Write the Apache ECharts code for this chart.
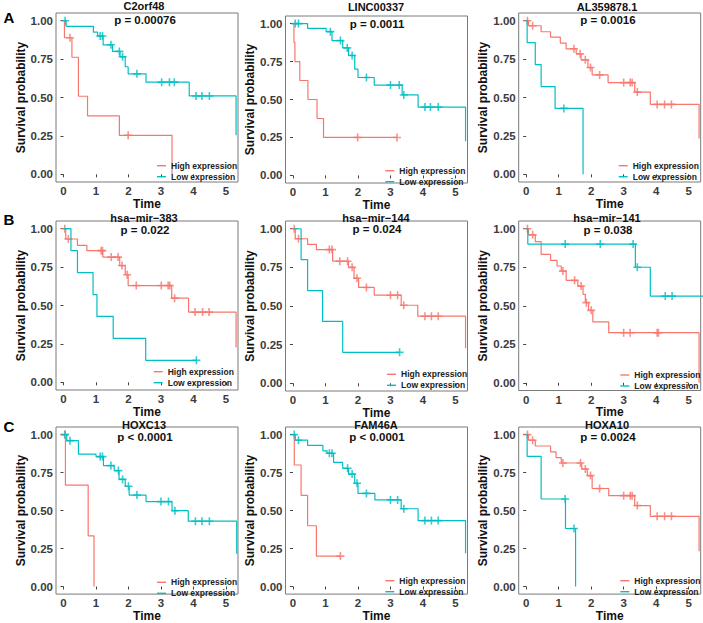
<!DOCTYPE html>
<html>
<head>
<meta charset="utf-8">
<script src="https://cdn.jsdelivr.net/npm/echarts@6/dist/echarts.min.js"></script>
<style>
html, body { margin: 0; padding: 0; background: #fff; }
#chart { width: 703px; height: 623px; }
</style>
</head>
<body>
<div id="chart"></div>
<script>
'use strict';

var xTicks = [0, 1, 2, 3, 4, 5];
var yTicks = [0, 0.25, 0.5, 0.75, 1];
var groups = ['High expression', 'Low expression'];
var genes = ['C2orf48', 'LINC00337', 'AL359878.1', 'hsa\u2212mir\u2212383', 'hsa\u2212mir\u2212144', 'hsa\u2212mir\u2212141', 'HOXC13', 'FAM46A', 'HOXA10'];
var pValues = ['p = 0.00076', 'p = 0.0011', 'p = 0.0016', 'p = 0.022', 'p = 0.024', 'p = 0.038', 'p < 0.0001', 'p < 0.0001', 'p = 0.0024'];
var panelLetters = ['A', 'B', 'C'];

// KM curves, one list per panel: event times, survival after each event, censored times
var highTimes = [
	[0.03, 0.26, 0.46, 0.74, 1.72, 3.34],
	[0.03, 0.06, 0.21, 0.46, 0.74, 0.94],
	[0.07, 0.46, 0.75, 1.05, 1.23, 1.54, 1.69, 1.9, 2.03, 2.52, 3.34, 3.82, 5.32],
	[0.07, 0.43, 0.72, 1.21, 1.73, 1.9, 1.99, 3.33, 3.85, 5.31],
	[0.07, 0.45, 0.72, 1.22, 1.71, 1.88, 2.02, 2.5, 3.33, 3.84, 5.31],
	[0.07, 0.28, 0.46, 0.75, 0.95, 1.08, 1.23, 1.59, 1.75, 1.82, 1.92, 2.05, 2.54, 5.32],
	[0.06, 0.76, 0.94],
	[0.04, 0.25, 0.45, 0.72],
	[0.07, 0.28, 0.75, 0.92, 1.08, 1.71, 1.88, 2.03, 2.54, 3.34, 3.82, 5.32]
];
var highSurv = [
	[0.889, 0.762, 0.508, 0.381, 0.254, 0],
	[0.875, 0.75, 0.625, 0.5, 0.375, 0.25],
	[0.967, 0.928, 0.893, 0.854, 0.817, 0.784, 0.745, 0.695, 0.647, 0.597, 0.535, 0.455, 0.233],
	[0.933, 0.891, 0.857, 0.815, 0.76, 0.70, 0.63, 0.548, 0.457, 0.226],
	[0.935, 0.899, 0.865, 0.79, 0.75, 0.68, 0.62, 0.57, 0.505, 0.434, 0.226],
	[0.96, 0.916, 0.833, 0.794, 0.758, 0.725, 0.665, 0.628, 0.574, 0.52, 0.47, 0.396, 0.325, 0],
	[0.667, 0.333, 0],
	[0.8, 0.6, 0.4, 0.2],
	[0.963, 0.925, 0.886, 0.849, 0.813, 0.774, 0.73, 0.645, 0.598, 0.533, 0.462, 0.232]
];
var highCens = [
	[0.2, 1.99],
	[1.99, 3.2],
	[0.04, 0.2, 1.47, 1.66, 1.82, 1.98, 2.26, 3.0, 3.2, 3.26, 3.42, 4.03, 4.26, 4.47],
	[0.04, 0.15, 1.16, 1.2, 1.47, 1.68, 1.8, 1.96, 2.24, 3.01, 3.22, 3.27, 3.42, 4.05, 4.28, 4.48],
	[0.04, 0.17, 1.12, 1.2, 1.44, 1.68, 1.82, 1.97, 2.26, 3.0, 3.22, 3.41, 4.06, 4.26, 4.47],
	[0.04, 0.2, 1.13, 1.49, 1.69, 1.85, 2.0, 3.0, 3.2, 4.03, 4.07],
	[0.04],
	[1.46],
	[0.04, 0.2, 1.13, 1.67, 1.82, 1.98, 2.26, 3.0, 3.2, 3.26, 3.42, 4.03, 4.26, 4.47]
];
var lowTimes = [
	[0.08, 0.92, 1.05, 1.22, 1.51, 1.74, 1.9, 1.99, 2.54, 3.87, 5.31],
	[0.45, 1.02, 1.2, 1.53, 1.71, 1.9, 2.0, 2.5, 3.36, 3.85, 5.31],
	[0.03, 0.28, 0.46, 0.89, 1.75],
	[0.23, 0.43, 0.91, 1.03, 1.53, 2.53],
	[0.25, 0.45, 0.91, 1.53],
	[0.05, 3.36, 3.82],
	[0.1, 0.46, 1.0, 1.23, 1.56, 1.71, 1.9, 2.02, 2.54, 3.34, 3.84, 5.33],
	[0.07, 0.45, 0.92, 1.05, 1.25, 1.53, 1.71, 1.9, 2.0, 2.52, 3.33, 3.85, 5.31],
	[0.03, 0.46, 1.21, 1.52]
];
var lowSurv = [
	[0.963, 0.925, 0.90, 0.843, 0.80, 0.765, 0.70, 0.654, 0.60, 0.51, 0.255],
	[0.969, 0.947, 0.888, 0.84, 0.79, 0.70, 0.645, 0.595, 0.53, 0.45, 0.225],
	[0.857, 0.714, 0.571, 0.429, 0],
	[0.857, 0.714, 0.571, 0.429, 0.286, 0.143],
	[0.8, 0.6, 0.4, 0.2],
	[0.9, 0.75, 0.5625],
	[0.96, 0.871, 0.855, 0.796, 0.763, 0.705, 0.66, 0.602, 0.559, 0.499, 0.43, 0.215],
	[0.963, 0.929, 0.893, 0.877, 0.817, 0.778, 0.74, 0.68, 0.613, 0.57, 0.512, 0.434, 0.219],
	[0.856, 0.576, 0.382, 0]
];
var lowCens = [
	[0.05, 1.13, 1.2, 1.46, 1.72, 1.82, 2.26, 3.02, 3.26, 3.41, 4.08, 4.26, 4.49],
	[0.07, 0.17, 1.15, 1.46, 1.67, 1.82, 2.26, 3.0, 3.27, 3.41, 4.06, 4.23, 4.47],
	[1.16],
	[4.09],
	[3.28],
	[1.2, 2.28, 3.29, 3.42, 4.28, 4.49, 5.45],
	[0.05, 0.2, 1.13, 1.2, 1.46, 1.69, 1.82, 2.0, 2.26, 3.0, 3.23, 3.43, 4.06, 4.26, 4.49],
	[0.04, 0.17, 1.12, 1.2, 1.68, 1.82, 1.97, 2.26, 3.0, 3.22, 3.41, 4.06, 4.26, 4.47],
	[1.2, 1.47]
];

// layout of the 3x3 panels
var boxes = [
	[56, 13, 169], [285.5, 16, 167], [518.7, 13, 169],
	[56, 221, 169], [285.5, 221, 170], [518.7, 221, 169.5],
	[56, 427, 170.5], [285.5, 427, 170.5], [518.7, 427, 170.5]
];
var titleX = [144, 376, 607];
var titleY = [5.5, 7, 6.5, 217.5, 217.5, 217.5, 424.5, 424.5, 424.5];
var pY = [19.5, 24, 19.5, 229.5, 229, 230, 437, 437, 437];
var xNameGap = [11, 10, 11, 8, 8, 8, 10, 10, 9];
var yNameGap = [27, 20.5, 25];
var legendLeft = [157, 385.3, 618.7, 153.7, 387, 620.3, 157, 385.3, 620.3];
var legendRow = [165.7, 170.7, 165.7, 371.7, 374.3, 375, 582.3, 580.7, 580.7];
var letterY = [17, 219.5, 426];

var RED = '#F8766D';
var CYAN = '#00BFC4';
var FONT = '"Liberation Sans", Arial, Helvetica, sans-serif';
var PLUS = 'path://M4,0H6V4H10V6H6V10H4V6H0V4H4Z';

function stepData(times, surv, cens) {
	var pts = [[0, 1]];
	times.forEach(function (t, i) { pts.push([t, surv[i]]); });
	var last = times[times.length - 1];
	var end = cens.length ? Math.max(last, cens[cens.length - 1]) : last;
	if (end > last) pts.push([end, surv[surv.length - 1]]);
	return pts;
}
function survAt(times, surv, t) {
	var s = 1;
	times.forEach(function (ti, i) { if (ti <= t) s = surv[i]; });
	return s;
}
function censData(times, surv, cens) {
	return cens.map(function (c) { return [c, survAt(times, surv, c)]; });
}

var grid = [], xAxis = [], yAxis = [], series = [], legend = [], graphic = [];

genes.forEach(function (gene, i) {
	var col = i % 3;
	var b = boxes[i];
	grid.push({
		left: b[0], top: b[1], width: 182, height: b[2],
		show: true, borderColor: '#7a7a7a', borderWidth: 1, backgroundColor: 'transparent'
	});
	xAxis.push({
		type: 'value', gridIndex: i, min: -0.23, max: 5.37,
		name: 'Time', nameLocation: 'middle', nameGap: xNameGap[i],
		nameTextStyle: { fontFamily: FONT, fontWeight: 'bold', fontSize: 12, lineHeight: 12, color: '#111' },
		axisLine: { show: false },
		axisTick: { show: true, length: 3, customValues: xTicks, lineStyle: { color: '#444' } },
		axisLabel: { customValues: xTicks, margin: 3, fontFamily: FONT, fontWeight: 'bold', fontSize: 11.5, color: '#3b3b3b' },
		splitLine: { show: false }
	});
	yAxis.push({
		type: 'value', gridIndex: i, min: -0.05, max: 1.05,
		name: 'Survival probability', nameLocation: 'middle', nameGap: yNameGap[col],
		nameTextStyle: { fontFamily: FONT, fontWeight: 'bold', fontSize: 12, color: '#111' },
		axisLine: { show: false },
		axisTick: { show: true, length: 3, customValues: yTicks, lineStyle: { color: '#444' } },
		axisLabel: {
			customValues: yTicks, margin: 3, fontFamily: FONT, fontWeight: 'bold', fontSize: 11.5, color: '#3b3b3b',
			formatter: function (v) { return v.toFixed(2); }
		},
		splitLine: { show: false }
	});

	var curves = [
		[groups[0], RED, highTimes[i], highSurv[i], highCens[i]],
		[groups[1], CYAN, lowTimes[i], lowSurv[i], lowCens[i]]
	];
	curves.forEach(function (c) {
		series.push({
			name: c[0], type: 'line', step: 'end', symbol: 'none',
			xAxisIndex: i, yAxisIndex: i,
			color: c[1], lineStyle: { width: 1.2, color: c[1] },
			data: stepData(c[2], c[3], c[4])
		});
		series.push({
			name: c[0] + ' censor', type: 'scatter', symbol: PLUS, symbolSize: 8,
			xAxisIndex: i, yAxisIndex: i,
			itemStyle: { color: c[1] },
			data: censData(c[2], c[3], c[4])
		});
	});

	legend.push({
		data: groups, orient: 'vertical', left: legendLeft[i], top: legendRow[i] - 5.5,
		padding: 0, itemGap: 0, itemWidth: 9, itemHeight: 1.4, icon: 'rect',
		textStyle: { fontFamily: FONT, fontWeight: 'bold', fontSize: 8.5, color: '#222', lineHeight: 11 },
		selectedMode: false
	});

	graphic.push({
		type: 'text', x: titleX[col], y: titleY[i],
		style: { text: gene, font: 'bold 11px ' + FONT, fill: '#111', textAlign: 'center', textVerticalAlign: 'middle' }
	});
	graphic.push({
		type: 'text', x: titleX[col] + 1, y: pY[i],
		style: { text: pValues[i], font: 'bold 11.5px ' + FONT, fill: '#111', textAlign: 'center', textVerticalAlign: 'middle' }
	});
});

panelLetters.forEach(function (l, r) {
	graphic.push({
		type: 'text', x: 9, y: letterY[r],
		style: { text: l, font: 'bold 15px ' + FONT, fill: '#000', textAlign: 'center', textVerticalAlign: 'middle' }
	});
});

var chart = echarts.init(document.getElementById('chart'), null, { renderer: 'svg' });
chart.setOption({
	animation: false,
	backgroundColor: '#fff',
	grid: grid,
	xAxis: xAxis,
	yAxis: yAxis,
	legend: legend,
	graphic: graphic,
	series: series
});
</script>
</body>
</html>
